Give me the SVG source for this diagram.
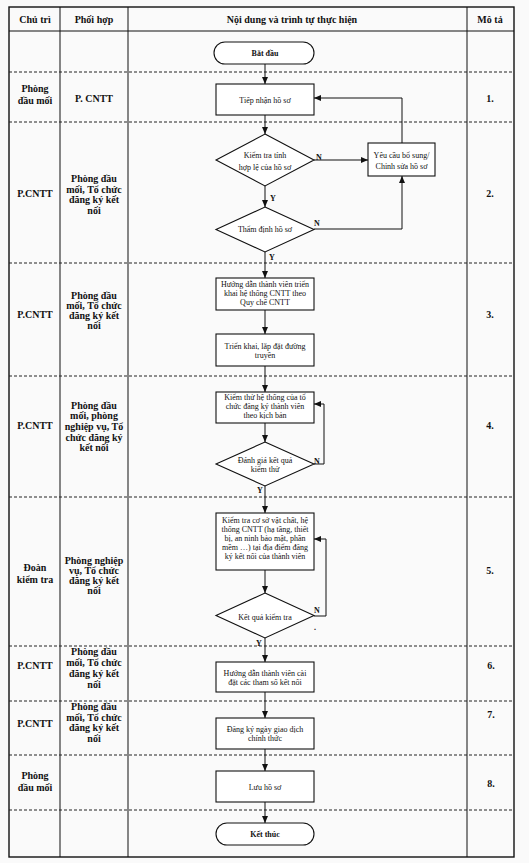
<svg xmlns="http://www.w3.org/2000/svg" width="529" height="863" viewBox="0 0 529 863">
<style>
.grid{stroke:#111;stroke-width:1;fill:none}
.dash{stroke:#222;stroke-width:1;stroke-dasharray:3 2;fill:none}
.shape{fill:#fff;stroke:#111;stroke-width:1.1}
.conn{stroke:#111;stroke-width:1;fill:none}
.h{font-family:"Liberation Serif",serif;font-weight:bold;font-size:10px;fill:#111;text-anchor:middle;dominant-baseline:central}
.t{font-family:"Liberation Serif",serif;font-size:8px;fill:#111;text-anchor:middle;dominant-baseline:central}
.tb{font-family:"Liberation Serif",serif;font-weight:bold;font-size:8px;fill:#111;text-anchor:middle;dominant-baseline:central}
.lbl{font-family:"Liberation Serif",serif;font-weight:bold;font-size:8px;fill:#111;dominant-baseline:central}
</style>
<defs>
<marker id="arr" markerWidth="7" markerHeight="6" refX="7" refY="3" orient="auto" markerUnits="userSpaceOnUse">
<path d="M0,0 L7,3 L0,6 z" fill="#111"/>
</marker>
</defs>
<rect x="0" y="0" width="529" height="863" fill="#fafafa"/>
<g id="table">
<rect x="9" y="7" width="505" height="850" fill="none" stroke="#111" stroke-width="1.4"/>
<line class="grid" x1="9" y1="31" x2="514" y2="31"/>
<line class="grid" x1="60" y1="7" x2="60" y2="857"/>
<line class="grid" x1="128" y1="7" x2="128" y2="857"/>
<line class="grid" x1="467" y1="7" x2="467" y2="857"/>
<line class="dash" x1="9" y1="72" x2="514" y2="72"/>
<line class="dash" x1="9" y1="122" x2="514" y2="122"/>
<line class="dash" x1="9" y1="263" x2="514" y2="263"/>
<line class="dash" x1="9" y1="376" x2="514" y2="376"/>
<line class="dash" x1="9" y1="497" x2="514" y2="497"/>
<line class="dash" x1="9" y1="646" x2="514" y2="646"/>
<line class="dash" x1="9" y1="701" x2="514" y2="701"/>
<line class="dash" x1="9" y1="755" x2="514" y2="755"/>
<line class="dash" x1="9" y1="810" x2="514" y2="810"/>
</g>
<g id="header">
<text class="h" x="35" y="19">Chủ trì</text>
<text class="h" x="94" y="19">Phối hợp</text>
<text class="h" x="292" y="19">Nội dung và trình tự thực hiện</text>
<text class="h" x="490" y="19">Mô tả</text>
</g>
<g id="row1">
<text class="h" x="35" y="88">Phòng</text>
<text class="h" x="35" y="100">đầu mối</text>
<text class="h" x="94" y="98">P. CNTT</text>
<text class="h" x="490" y="98">1.</text>
</g>
<g id="row2">
<text class="h" x="35" y="193">P.CNTT</text>
<text class="h" x="94" y="178">Phòng đầu</text>
<text class="h" x="94" y="189">mối, Tổ chức</text>
<text class="h" x="94" y="199">đăng ký kết</text>
<text class="h" x="94" y="210">nối</text>
<text class="h" x="490" y="193">2.</text>
</g>
<g id="row3">
<text class="h" x="35" y="314">P.CNTT</text>
<text class="h" x="94" y="295">Phòng đầu</text>
<text class="h" x="94" y="305">mối, Tổ chức</text>
<text class="h" x="94" y="315">đăng ký kết</text>
<text class="h" x="94" y="325">nối</text>
<text class="h" x="490" y="314">3.</text>
</g>
<g id="row4">
<text class="h" x="35" y="425">P.CNTT</text>
<text class="h" x="94" y="405">Phòng đầu</text>
<text class="h" x="94" y="415">mối, phòng</text>
<text class="h" x="94" y="426">nghiệp vụ, Tổ</text>
<text class="h" x="94" y="437">chức đăng ký</text>
<text class="h" x="94" y="447">kết nối</text>
<text class="h" x="490" y="425">4.</text>
</g>
<g id="row5">
<text class="h" x="35" y="567">Đoàn</text>
<text class="h" x="35" y="579">kiểm tra</text>
<text class="h" x="94" y="560">Phòng nghiệp</text>
<text class="h" x="94" y="570">vụ, Tổ chức</text>
<text class="h" x="94" y="580">đăng ký kết</text>
<text class="h" x="94" y="590">nối</text>
<text class="h" x="490" y="570">5.</text>
</g>
<g id="row6">
<text class="h" x="35" y="665">P.CNTT</text>
<text class="h" x="94" y="651">Phòng đầu</text>
<text class="h" x="94" y="662">mối, Tổ chức</text>
<text class="h" x="94" y="673">đăng ký kết</text>
<text class="h" x="94" y="684">nối</text>
<text class="h" x="491" y="665">6.</text>
</g>
<g id="row7">
<text class="h" x="35" y="723">P.CNTT</text>
<text class="h" x="94" y="706">Phòng đầu</text>
<text class="h" x="94" y="717">mối, Tổ chức</text>
<text class="h" x="94" y="727">đăng ký kết</text>
<text class="h" x="94" y="738">nối</text>
<text class="h" x="491" y="714">7.</text>
</g>
<g id="row8">
<text class="h" x="35" y="775">Phòng</text>
<text class="h" x="35" y="787">đầu mối</text>
<text class="h" x="491" y="783">8.</text>
</g>
<g id="connectors">
<line class="conn" x1="265" y1="64" x2="265" y2="84" marker-end="url(#arr)"/>
<line class="conn" x1="265" y1="115" x2="265" y2="134" marker-end="url(#arr)"/>
<line class="conn" x1="314" y1="160" x2="368" y2="160" marker-end="url(#arr)"/>
<polyline class="conn" points="402,143 402,98 314,98" marker-end="url(#arr)"/>
<line class="conn" x1="265" y1="186" x2="265" y2="207" marker-end="url(#arr)"/>
<polyline class="conn" points="314,229 402,229 402,176" marker-end="url(#arr)"/>
<line class="conn" x1="265" y1="252" x2="265" y2="278" marker-end="url(#arr)"/>
<line class="conn" x1="265" y1="310" x2="265" y2="334" marker-end="url(#arr)"/>
<line class="conn" x1="265" y1="366" x2="265" y2="392" marker-end="url(#arr)"/>
<line class="conn" x1="265" y1="423" x2="265" y2="442" marker-end="url(#arr)"/>
<polyline class="conn" points="314,464 324,464 324,404 314,404" marker-end="url(#arr)"/>
<line class="conn" x1="265" y1="486" x2="265" y2="513" marker-end="url(#arr)"/>
<line class="conn" x1="265" y1="570" x2="265" y2="593" marker-end="url(#arr)"/>
<polyline class="conn" points="314,616 326,616 326,539 314,539" marker-end="url(#arr)"/>
<line class="conn" x1="265" y1="638" x2="265" y2="662" marker-end="url(#arr)"/>
<line class="conn" x1="265" y1="692" x2="265" y2="718" marker-end="url(#arr)"/>
<line class="conn" x1="265" y1="749" x2="265" y2="771" marker-end="url(#arr)"/>
<line class="conn" x1="265" y1="802" x2="265" y2="823" marker-end="url(#arr)"/>
<text class="lbl" x="316" y="157">N</text>
<text class="lbl" x="270" y="198">Y</text>
<text class="lbl" x="314" y="223">N</text>
<text class="lbl" x="269" y="257">Y</text>
<text class="lbl" x="314" y="461">N</text>
<text class="lbl" x="257" y="490">Y</text>
<text class="lbl" x="314" y="610">N</text>
<text class="lbl" x="256" y="643">Y</text>
<text class="lbl" x="314" y="627">.</text>
</g>
<g id="start">
<rect class="shape" x="214" y="42" width="100" height="22" rx="11"/>
<text class="tb" x="265" y="53">Bắt đầu</text>
</g>
<g id="receive">
<rect class="shape" x="216" y="84" width="98" height="31"/>
<text class="t" x="265" y="100">Tiếp nhận hồ sơ</text>
</g>
<g id="check-valid">
<polygon class="shape" points="265,134 314,160 265,186 216,160"/>
<text class="t" x="265" y="155">Kiểm tra tính</text>
<text class="t" x="265" y="167">hợp lệ của hồ sơ</text>
</g>
<g id="request-fix">
<rect class="shape" x="368" y="143" width="67" height="33"/>
<text class="t" x="401.5" y="155">Yêu cầu bổ sung/</text>
<text class="t" x="401.5" y="166">Chỉnh sửa hồ sơ</text>
</g>
<g id="appraise">
<polygon class="shape" points="265,207 314,229.5 265,252 216,229.5"/>
<text class="t" x="265" y="229">Thẩm định hồ sơ</text>
</g>
<g id="guide-deploy">
<rect class="shape" x="216" y="278" width="98" height="32"/>
<text class="t" x="265" y="284">Hướng dẫn thành viên triển</text>
<text class="t" x="265" y="293">khai hệ thống CNTT theo</text>
<text class="t" x="265" y="302">Quy chế CNTT</text>
</g>
<g id="install">
<rect class="shape" x="216" y="334" width="98" height="32"/>
<text class="t" x="265" y="346">Triển khai, lắp đặt đường</text>
<text class="t" x="265" y="355">truyền</text>
</g>
<g id="test-system">
<rect class="shape" x="216" y="392" width="98" height="31"/>
<text class="t" x="265" y="397">Kiểm thử hệ thống của tổ</text>
<text class="t" x="265" y="406">chức đăng ký thành viên</text>
<text class="t" x="265" y="415">theo kịch bản</text>
</g>
<g id="eval-test">
<polygon class="shape" points="265,442 314,464 265,486 216,464"/>
<text class="t" x="265" y="460">Đánh giá kết quả</text>
<text class="t" x="265" y="469">kiểm thử</text>
</g>
<g id="inspect">
<rect class="shape" x="216" y="513" width="98" height="57"/>
<text class="t" x="265" y="520">Kiểm tra cơ sở vật chất, hệ</text>
<text class="t" x="265" y="529">thống CNTT (hạ tầng, thiết</text>
<text class="t" x="265" y="538">bị, an ninh bảo mật, phần</text>
<text class="t" x="265" y="547">mềm …) tại địa điểm đăng</text>
<text class="t" x="265" y="556">ký kết nối của thành viên</text>
</g>
<g id="inspect-result">
<polygon class="shape" points="265,593 314,615.5 265,638 216,615.5"/>
<text class="t" x="265" y="617">Kết quả kiểm tra</text>
</g>
<g id="guide-params">
<rect class="shape" x="216" y="662" width="98" height="30"/>
<text class="t" x="265" y="673">Hướng dẫn thành viên cài</text>
<text class="t" x="265" y="682">đặt các tham số kết nối</text>
</g>
<g id="register-date">
<rect class="shape" x="216" y="718" width="98" height="31"/>
<text class="t" x="265" y="729">Đăng ký ngày giao dịch</text>
<text class="t" x="265" y="738">chính thức</text>
</g>
<g id="archive">
<rect class="shape" x="216" y="771" width="98" height="31"/>
<text class="t" x="265" y="787">Lưu hồ sơ</text>
</g>
<g id="end">
<rect class="shape" x="216" y="823" width="98" height="22" rx="11"/>
<text class="tb" x="265" y="834">Kết thúc</text>
</g>
</svg>
